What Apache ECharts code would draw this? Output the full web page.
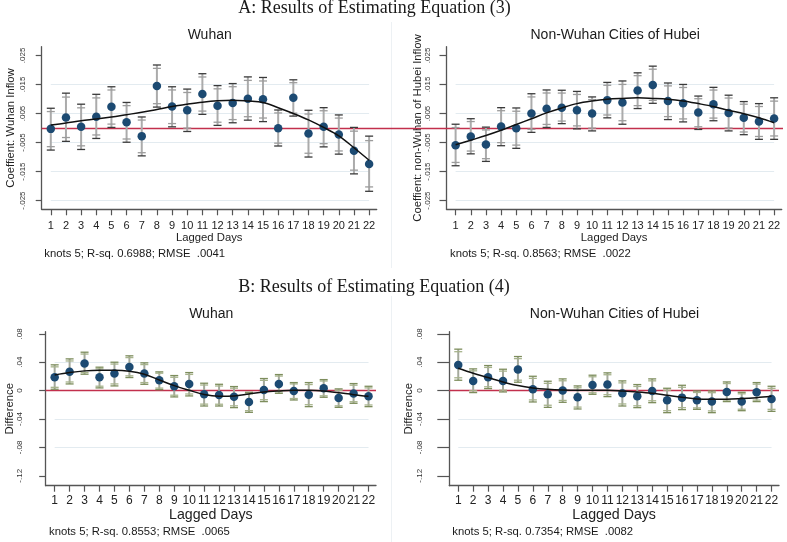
<!DOCTYPE html>
<html>
<head>
<meta charset="utf-8">
<script src="https://cdn.jsdelivr.net/npm/echarts@6/dist/echarts.min.js"></script>
<style>
html,body{margin:0;padding:0;background:#fff;}
#c{width:787px;height:542px;}
</style>
</head>
<body>
<div id="c"></div>
<script>
// ---------- data ----------
const dayLabels = ['1','2','3','4','5','6','7','8','9','10','11','12','13','14','15','16','17','18','19','20','21','22'];
const days = [1,2,3,4,5,6,7,8,9,10,11,12,13,14,15,16,17,18,19,20,21,22];

// Panel A, Wuhan
const wuhanA_coef = [-0.0003,0.0036,0.0004,0.0039,0.0073,0.0020,-0.0028,0.0145,0.0074,0.0061,0.0117,0.0077,0.0086,0.0101,0.0099,-0.0001,0.0104,-0.0019,0.0004,-0.0022,-0.0078,-0.0124];
const wuhanA_hi   = [0.0068,0.0120,0.0082,0.0116,0.0142,0.0088,0.0038,0.0217,0.0142,0.0134,0.0187,0.0146,0.0153,0.0176,0.0174,0.0062,0.0166,0.0061,0.0070,0.0045,0.0002,-0.0028];
const wuhanA_lo   = [-0.0076,-0.0046,-0.0074,-0.0036,0.0002,-0.0049,-0.0096,0.0072,0.0004,-0.0012,0.0047,0.0009,0.0018,0.0027,0.0022,-0.0062,0.0041,-0.0100,-0.0065,-0.0090,-0.0158,-0.0218];
const wuhanA_fit  = [0.0010,0.0017,0.0025,0.0031,0.0038,0.0046,0.0054,0.0064,0.0074,0.0082,0.0089,0.0094,0.0096,0.0093,0.0088,0.0070,0.0050,0.0028,0.0002,-0.0027,-0.0068,-0.0111];

// Panel A, Non-Wuhan Cities of Hubei
const nonA_coef = [-0.0059,-0.0029,-0.0057,0.0005,-0.0001,0.0050,0.0066,0.0070,0.0061,0.0050,0.0096,0.0088,0.0129,0.0148,0.0093,0.0085,0.0053,0.0082,0.0052,0.0035,0.0022,0.0033];
const nonA_hi   = [0.0013,0.0032,0.0003,0.0070,0.0069,0.0118,0.0131,0.0130,0.0126,0.0107,0.0157,0.0162,0.0190,0.0213,0.0155,0.0150,0.0110,0.0140,0.0113,0.0091,0.0084,0.0104];
const nonA_lo   = [-0.0130,-0.0089,-0.0115,-0.0061,-0.0070,-0.0015,0.0002,0.0015,-0.0003,-0.0010,0.0035,0.0013,0.0067,0.0085,0.0029,0.0021,-0.0005,0.0025,-0.0010,-0.0023,-0.0039,-0.0039];
const nonA_fit  = [-0.0058,-0.0042,-0.0026,-0.0008,0.0012,0.0032,0.0052,0.0069,0.0084,0.0093,0.0099,0.0102,0.0104,0.0102,0.0099,0.0093,0.0084,0.0074,0.0061,0.0049,0.0035,0.0018];

// Panel B, Wuhan
const wuhanB_coef = [0.0188,0.0264,0.0381,0.0188,0.0240,0.0334,0.0240,0.0146,0.0061,0.0094,-0.0052,-0.0061,-0.0085,-0.0160,0.0009,0.0094,-0.0005,-0.0057,0.0033,-0.0104,-0.0042,-0.0080];
const wuhanB_hi   = [0.0363,0.0447,0.0541,0.0330,0.0400,0.0490,0.0391,0.0264,0.0212,0.0254,0.0104,0.0089,0.0057,-0.0024,0.0170,0.0226,0.0113,0.0113,0.0155,0.0024,0.0099,0.0061];
const wuhanB_lo   = [0.0019,0.0094,0.0231,0.0038,0.0066,0.0184,0.0089,0.0014,-0.0089,-0.0075,-0.0217,-0.0217,-0.0240,-0.0306,-0.0155,-0.0038,-0.0132,-0.0226,-0.0094,-0.0236,-0.0179,-0.0226];
const wuhanB_fit  = [0.0220,0.0254,0.0278,0.0287,0.0287,0.0273,0.0230,0.0150,0.0070,0.0005,-0.0055,-0.0078,-0.0075,-0.0047,-0.0020,-0.0005,0.0005,0.0005,-0.0005,-0.0030,-0.0057,-0.0080];

// Panel B, Non-Wuhan Cities of Hubei
const nonB_coef = [0.0362,0.0137,0.0188,0.0137,0.0297,0.0019,-0.0052,0.0000,-0.0094,0.0080,0.0085,-0.0038,-0.0080,-0.0005,-0.0137,-0.0099,-0.0137,-0.0155,-0.0019,-0.0155,-0.0024,-0.0118];
const nonB_hi   = [0.0584,0.0306,0.0353,0.0301,0.0480,0.0202,0.0132,0.0165,0.0066,0.0217,0.0250,0.0137,0.0085,0.0165,0.0033,0.0075,-0.0005,-0.0005,0.0122,-0.0024,0.0113,0.0061];
const nonB_lo   = [0.0146,-0.0028,0.0028,-0.0019,0.0118,-0.0160,-0.0236,-0.0165,-0.0259,-0.0052,-0.0085,-0.0217,-0.0240,-0.0170,-0.0311,-0.0268,-0.0264,-0.0311,-0.0155,-0.0283,-0.0155,-0.0292];
const nonB_fit  = [0.0316,0.0245,0.0184,0.0122,0.0071,0.0038,0.0019,0.0009,0.0005,0.0005,0.0005,-0.0005,-0.0019,-0.0038,-0.0066,-0.0094,-0.0118,-0.0122,-0.0122,-0.0113,-0.0099,-0.0080];

// tick labels
const yTicksA = [-0.025,-0.015,-0.005,0.005,0.015,0.025];
const yLabelsA = ['-.025','-.015','-.005','.005','.015','.025'];
const yGridA = [-0.025,-0.015,-0.005,0.005,0.015];
const yTicksB = [-0.12,-0.08,-0.04,0,0.04,0.08];
const yLabelsB = ['-.12','-.08','-.04','0','.04','.08'];
const yGridB = [-0.08,-0.04,0.04];

const notes = ['knots 5; R-sq. 0.6988; RMSE  .0041','knots 5; R-sq. 0.8563; RMSE  .0022','knots 5; R-sq. 0.8553; RMSE  .0065','knots 5; R-sq. 0.7354; RMSE  .0082'];
const panelTitles = ['Wuhan','Non-Wuhan Cities of Hubei','Wuhan','Non-Wuhan Cities of Hubei'];
const yNames = ['Coeffient: Wuhan Inflow','Coeffient: non-Wuhan of Hubei Inflow','Difference','Difference'];
// ratio of 90% to 95% normal critical values, used for the inner caps
const Z90_OVER_Z95 = 1.645 / 1.96;

// ---------- chart ----------
const SANS = 'Liberation Sans, Arial, sans-serif';
const chart = echarts.init(document.getElementById('c'), null, {renderer:'canvas'});

const panels = [
  {coef:wuhanA_coef, lo:wuhanA_lo, hi:wuhanA_hi, fit:wuhanA_fit, A:true},
  {coef:nonA_coef, lo:nonA_lo, hi:nonA_hi, fit:nonA_fit, A:true},
  {coef:wuhanB_coef, lo:wuhanB_lo, hi:wuhanB_hi, fit:wuhanB_fit, A:false},
  {coef:nonB_coef, lo:nonB_lo, hi:nonB_hi, fit:nonB_fit, A:false}
];
const grids = [
  {left:41.7, top:46.7, width:335, height:162.6},
  {left:446.5, top:46.7, width:335.2, height:162.6},
  {left:45.7, top:331.7, width:330.3, height:154},
  {left:449.3, top:331.7, width:329.7, height:154},
  {left:41.7, top:46.7, width:741.3, height:162.6}
];
const yLabelMargin = [15, 14.5, 21.5, 26];
const yTickLen = [6, 7, 6.5, 12];
const yNameGap = [25, 22.5, 29, 31];
const xLabelMargin = [11, 11, 9, 9];
const xLabelSize = [11, 11, 12, 12];
const xNameSize = [11.3, 11.3, 14.2, 14.2];
const xNameGap = [22, 22, 21, 21];

function fmt(ticks, labels){
  return function(v){
    const i = ticks.findIndex(t => Math.abs(t - v) < 1e-9);
    return i >= 0 ? labels[i] : '';
  };
}

const xAxis = [], yAxis = [], series = [];
panels.forEach((p, k) => {
  const ticks = p.A ? yTicksA : yTicksB;
  const labels = p.A ? yLabelsA : yLabelsB;
  const axisColor = '#555';
  xAxis.push({
    type:'value', gridIndex:k, min:0.4, max:22.5,
    name:'Lagged Days', nameLocation:'middle', nameGap:xNameGap[k],
    nameTextStyle:{fontFamily:SANS, fontSize:xNameSize[k], color:'#222'},
    axisLine:{show:true, onZero:false, lineStyle:{color:axisColor, width:1.3}},
    axisTick:{show:true, length:6, customValues:days, lineStyle:{color:axisColor, width:1.2}},
    axisLabel:{customValues:days, margin:xLabelMargin[k], fontFamily:SANS, fontSize:xLabelSize[k], color:'#222',
      formatter:function(v){ const i = days.indexOf(Math.round(v)); return i>=0 ? dayLabels[i] : ''; }},
    splitLine:{show:false}
  });
  yAxis.push({
    type:'value', gridIndex:k,
    min: p.A ? -0.028 : -0.134, max: p.A ? 0.028 : 0.083,
    name:yNames[k], nameLocation:'middle', nameGap:yNameGap[k], nameRotate:90,
    nameTextStyle:{fontFamily:SANS, fontSize:p.A?11.3:11.4, color:'#222'},
    axisLine:{show:true, onZero:false, lineStyle:{color:axisColor, width:1.3}},
    axisTick:{show:true, length:yTickLen[k], customValues:ticks, lineStyle:{color:axisColor, width:1.2}},
    axisLabel:{customValues:ticks, rotate:90, margin:yLabelMargin[k], fontFamily:SANS, fontSize:8, color:'#333',
      formatter:fmt(ticks, labels)},
    splitLine:{show:false}
  });

  const gridVals = p.A ? yGridA : yGridB;
  // gridlines (span from first to last day)
  series.push({
    type:'scatter', xAxisIndex:k, yAxisIndex:k, symbolSize:0, silent:true, z:1,
    data: gridVals.map(v => [days[0], v]),
    markLine:{silent:true, symbol:'none', z:1, animation:false, label:{show:false},
      lineStyle:{color:'#e3ebf0', width:1.2, type:'solid'},
      data: gridVals.map(v => [{coord:[days[0], v]}, {coord:[days[days.length-1], v]}])}
  });
  // zero reference line for panel B (panel A uses the shared helper grid)
  if (!p.A) {
    series.push({
      type:'scatter', xAxisIndex:k, yAxisIndex:k, symbolSize:0, silent:true, z:2,
      data:[[days[0],0]],
      markLine:{silent:true, symbol:'none', z:2, animation:false, label:{show:false},
        lineStyle:{color:'#c2304d', width:1.4, type:'solid'}, data:[{yAxis:0}]}
    });
  }
  // error bars
  const barData = days.map((d, i) => {
    const c = p.coef[i];
    return [d, p.lo[i], p.hi[i], c - (c - p.lo[i]) * Z90_OVER_Z95, c + (p.hi[i] - c) * Z90_OVER_Z95];
  });
  const stemColor = p.A ? '#ababab' : '#a4a99c';
  const outerCap = p.A ? '#3a3a3a' : '#7d8d5c';
  const innerCap = p.A ? '#9c9c9c' : '#a7b38c';
  series.push({
    type:'custom', xAxisIndex:k, yAxisIndex:k, z:3, silent:true, animation:false,
    data: barData,
    renderItem:function(params, api){
      const x = api.value(0);
      const a = api.coord([x, api.value(1)]);
      const b = api.coord([x, api.value(2)]);
      const c = api.coord([x, api.value(3)]);
      const d = api.coord([x, api.value(4)]);
      const hw = 4;
      const cap = (pt, col) => ({type:'line', shape:{x1:pt[0]-hw, y1:pt[1], x2:pt[0]+hw, y2:pt[1]}, style:{stroke:col, lineWidth:1.3}});
      return {type:'group', children:[
        {type:'line', shape:{x1:a[0], y1:a[1], x2:b[0], y2:b[1]}, style:{stroke:stemColor, lineWidth:2}},
        cap(c, innerCap), cap(d, innerCap),
        cap(a, outerCap), cap(b, outerCap)
      ]};
    }
  });
  // estimates
  series.push({
    type:'scatter', xAxisIndex:k, yAxisIndex:k, z:4, symbol:'circle', symbolSize:8.5,
    itemStyle:{color:'#1c4a72', opacity:1}, animation:false,
    data: days.map((d, i) => [d, p.coef[i]])
  });
  // spline fit
  series.push({
    type:'line', xAxisIndex:k, yAxisIndex:k, z:5, smooth:0.35, showSymbol:false, symbol:'none', animation:false,
    lineStyle:{color:'#111', width:1.5},
    data: days.map((d, i) => [d, p.fit[i]])
  });
});

// helper grid: the zero line of panel A runs across both top panels
xAxis.push({type:'value', gridIndex:4, min:0, max:1, show:false});
yAxis.push({type:'value', gridIndex:4, min:-0.028, max:0.028, show:false});
series.push({
  type:'scatter', xAxisIndex:4, yAxisIndex:4, symbolSize:0, silent:true, z:2, data:[[0,0]],
  markLine:{silent:true, symbol:'none', z:2, animation:false, label:{show:false},
    lineStyle:{color:'#c2304d', width:1.4, type:'solid'}, data:[{yAxis:0}]}
});

const textEl = (x, y, text, size, family, align) => ({
  type:'text', x:x, y:y, silent:true,
  style:{text:text, fontSize:size, fontFamily:family, fill:'#1a1a1a', textAlign:align||'center', textVerticalAlign:'middle'}
});
const SERIF = 'Liberation Serif, Times New Roman, serif';

chart.setOption({
  backgroundColor:'#ffffff',
  animation:false,
  grid:grids,
  xAxis:xAxis,
  yAxis:yAxis,
  series:series,
  graphic:[
    {type:'line', silent:true, shape:{x1:391.5, y1:22, x2:391.5, y2:268}, style:{stroke:'#edf1f4', lineWidth:1}},
    {type:'line', silent:true, shape:{x1:391.5, y1:296, x2:391.5, y2:542}, style:{stroke:'#edf1f4', lineWidth:1}},
    textEl(374.5, 8, 'A: Results of Estimating Equation (3)', 18, SERIF),
    textEl(374, 287.5, 'B: Results of Estimating Equation (4)', 18, SERIF),
    textEl(209.7, 35, panelTitles[0], 14, SANS),
    textEl(615.2, 35, panelTitles[1], 14, SANS),
    textEl(211.2, 314.3, panelTitles[2], 14, SANS),
    textEl(614.5, 314.3, panelTitles[3], 14, SANS),
    textEl(44.3, 254, notes[0], 11.3, SANS, 'left'),
    textEl(450, 254, notes[1], 11.3, SANS, 'left'),
    textEl(49, 532.3, notes[2], 11.3, SANS, 'left'),
    textEl(452.3, 532.3, notes[3], 11.3, SANS, 'left')
  ]
});
</script>
</body>
</html>
